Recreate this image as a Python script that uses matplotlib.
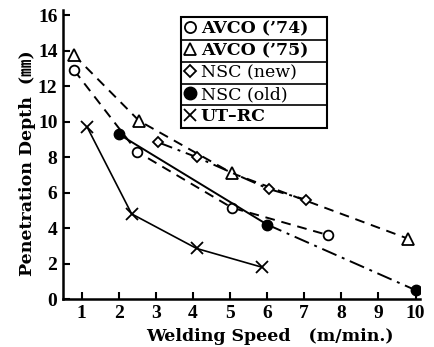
import matplotlib
matplotlib.use("Agg")
import matplotlib.pyplot as plt
from matplotlib.lines import Line2D

# ---- data ----
avco74_x = [0.8, 2.5, 5.05, 7.65]
avco74_y = [12.9, 8.3, 5.15, 3.6]

avco75_x = [0.8, 2.55, 5.05, 9.8]
avco75_y = [13.75, 10.05, 7.1, 3.4]

nscnew_x = [3.05, 4.1, 6.05, 7.05]
nscnew_y = [8.85, 8.0, 6.2, 5.6]

nscold_x = [2.0, 6.0, 10.0]
nscold_y = [9.3, 4.2, 0.5]

utrc_x = [1.15, 2.35, 4.1, 5.85]
utrc_y = [9.7, 4.8, 2.85, 1.8]

labels = ["AVCO (’74)", "AVCO (’75)", "NSC (new)", "NSC (old)", "UT–RC"]
x_ticks = list(range(1, 11))
y_ticks = list(range(0, 17, 2))

TICKF = ['Liberation Serif', 'DejaVu Serif']
LABF = ['DejaVu Serif', 'Noto Sans CJK JP']
plt.rcParams['font.family'] = TICKF

W, H = 434, 347
fig = plt.figure(figsize=(W / 100, H / 100), dpi=100)
ax = fig.add_axes([63 / W, 48 / H, (420 - 63) / W, (299 - 10) / H])

lw = 1.4
dash = (0, (5, 3.5))
dashdot = (0, (8, 3, 1.5, 3))

ax.plot(avco74_x, avco74_y, color='black', lw=lw, linestyle=dash,
        marker='o', mfc='white', mec='black', ms=7, mew=1.3)
ax.plot(avco75_x, avco75_y, color='black', lw=lw, linestyle=dash,
        marker='^', mfc='white', mec='black', ms=8, mew=1.3)
ax.plot(nscnew_x, nscnew_y, color='black', lw=lw, linestyle=dashdot,
        marker='D', mfc='white', mec='black', ms=5.5, mew=1.3)
ax.plot(nscold_x[:2], nscold_y[:2], color='black', lw=lw, linestyle='-')
ax.plot(nscold_x[1:], nscold_y[1:], color='black', lw=lw, linestyle=dashdot)
ax.plot(nscold_x, nscold_y, linestyle='none', marker='o', color='black', ms=7.5)
ax.plot(utrc_x, utrc_y, color='black', lw=1.2, linestyle='-',
        marker='x', ms=8, mew=1.3)

ax.set_xlim(0.5, 10.12)
ax.set_ylim(0, 16.3)
ax.set_xticks(x_ticks)
ax.set_yticks(y_ticks)
ax.tick_params(direction='in', length=5, width=1.5, labelsize=14, pad=4)
for t in ax.get_xticklabels() + ax.get_yticklabels():
    t.set_fontweight('bold')
for s in ['top', 'right']:
    ax.spines[s].set_visible(False)
for s in ['left', 'bottom']:
    ax.spines[s].set_linewidth(1.8)

ax.set_xlabel('Welding Speed   (m/min.)', fontsize=12.5, fontweight='bold',
              family=LABF, va='center')
ax.xaxis.set_label_coords(0.58, -0.131)
ax.set_ylabel('Penetration Depth  (㎜)', fontsize=12.5, fontweight='bold',
              family=LABF, va='center')
ax.yaxis.set_label_coords(-0.10, 0.47)

handles = [
    Line2D([], [], ls='none', marker='o', mfc='white', mec='black', ms=8, mew=1.3),
    Line2D([], [], ls='none', marker='^', mfc='white', mec='black', ms=9, mew=1.3),
    Line2D([], [], ls='none', marker='D', mfc='white', mec='black', ms=6.5, mew=1.3),
    Line2D([], [], ls='none', marker='o', color='black', ms=9),
    Line2D([], [], ls='none', marker='x', color='black', ms=9, mew=1.3),
]
leg = ax.legend(handles, labels, loc='upper left',
                bbox_to_anchor=(0.33, 0.976, 0.41, 0.0), mode='expand',
                frameon=True, fancybox=False, edgecolor='black', framealpha=1,
                prop={'family': LABF, 'weight': 'bold', 'size': 12.5},
                handlelength=0.7, handletextpad=0.25, borderpad=0.2,
                labelspacing=0.28, borderaxespad=0)
leg.get_frame().set_linewidth(1.5)
for t in leg.get_texts()[2:4]:
    t.set_fontweight('normal')

fig.canvas.draw()
texts = leg.get_texts()
inv = fig.transFigure.inverted()
fb = leg.get_frame().get_window_extent()
for a, b in zip(texts[:-1], texts[1:]):
    ya = a.get_window_extent().y0
    yb = b.get_window_extent().y1
    ym = (ya + yb) / 2
    (x0, y0) = inv.transform((fb.x0, ym))
    (x1, _) = inv.transform((fb.x1, ym))
    fig.add_artist(Line2D([x0, x1], [y0, y0], color='black', lw=1.2,
                          transform=fig.transFigure))

fig.savefig('out.png', dpi=100)
